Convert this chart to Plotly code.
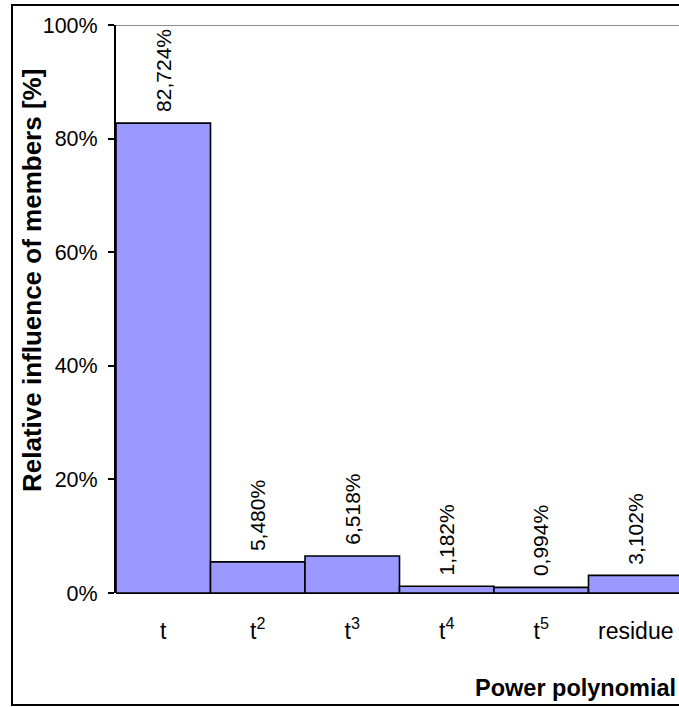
import plotly.graph_objects as go

categories = ["t", "t<sup>2</sup>", "t<sup>3</sup>", "t<sup>4</sup>", "t<sup>5</sup>", "residue"]
values = [82.724, 5.480, 6.518, 1.182, 0.994, 3.102]
y_ticks = [0, 20, 40, 60, 80, 100]
y_title = "Relative influence of members [%]"
x_title = "Power polynomial"

W, H = 679, 707
L, R, T, B = 116, 0, 25, 114
pw = W - L - R
ph = H - T - B
cat_w = 94.5

FONT = "Liberation Sans, Arial, sans-serif"
xs = list(range(len(categories)))

fig = go.Figure()
fig.add_trace(go.Bar(
    x=xs, y=values, width=1,
    marker=dict(color="#9999FF", line=dict(color="black", width=1.6)),
    hoverinfo="skip",
))

ann = []
for x, v in zip(xs, values):
    ann.append(dict(
        x=x, y=v, xref="x", yref="y", showarrow=False, textangle=-90,
        text=f"{v:.3f}".replace(".", ",") + "%",
        xanchor="center", yanchor="bottom", yshift=9,
        font=dict(family=FONT, size=21, color="black"),
    ))

def px_x(p):
    return (p - L) / pw

def px_y(p):
    return (H - B - p) / ph

ann.append(dict(
    x=px_x(32), y=px_y(281), xref="paper", yref="paper", showarrow=False,
    textangle=-90, text=f"<b>{y_title}</b>", xanchor="center", yanchor="middle",
    font=dict(family=FONT, size=26, color="black"),
))
ann.append(dict(
    x=px_x(678), y=px_y(688), xref="paper", yref="paper", showarrow=False,
    text=f"<b>{x_title}</b>", xanchor="right", yanchor="middle",
    font=dict(family=FONT, size=23.5, color="black"),
))

shapes = [
    dict(type="line", xref="paper", yref="y", x0=0, x1=1, y0=100, y1=100,
         line=dict(color="#8c8c8c", width=2), layer="below"),
    dict(type="rect", xref="paper", yref="paper",
         x0=px_x(12), x1=px_x(700), y0=px_y(705), y1=px_y(5),
         line=dict(color="black", width=2)),
]

fig.update_layout(
    width=W, height=H, autosize=False,
    margin=dict(l=L, r=R, t=T, b=B, pad=0),
    paper_bgcolor="white", plot_bgcolor="white",
    showlegend=False, bargap=0,
    font=dict(family=FONT, color="black"),
    annotations=ann, shapes=shapes,
    xaxis=dict(
        range=[-0.5, -0.5 + pw / cat_w],
        tickvals=xs, ticktext=categories, ticks="",
        showgrid=False, zeroline=False,
        showline=False,
        tickfont=dict(family=FONT, size=23, color="black"),
        ticklabelstandoff=22,
    ),
    yaxis=dict(
        range=[0, 100], tickvals=y_ticks, ticktext=[f"{t}%" for t in y_ticks],
        ticks="outside", ticklen=6, tickwidth=2, tickcolor="black",
        showline=True, linecolor="black", linewidth=2,
        showgrid=False, zeroline=True, zerolinecolor="black", zerolinewidth=2,
        tickfont=dict(family=FONT, size=21.5, color="black"),
        ticklabelstandoff=6,
    ),
)

fig.write_html(
    "out.html",
    config={"displayModeBar": False, "staticPlot": True},
    post_script="document.body.style.margin='0';document.body.style.overflow='hidden';",
)
